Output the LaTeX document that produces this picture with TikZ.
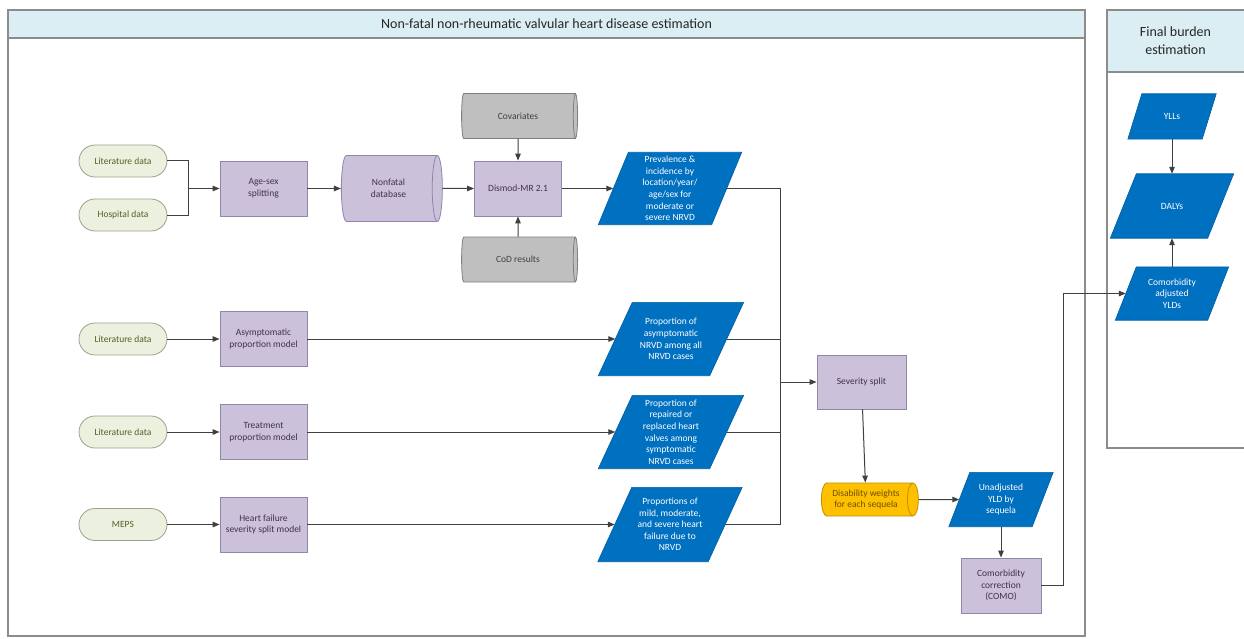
\documentclass[tikz,border=0pt]{standalone}
\usepackage{fontspec}
\setmainfont{Carlito}
\usetikzlibrary{shapes.geometric,arrows.meta,calc}
\pgfdeclarelayer{back}\pgfdeclarelayer{bg}
\pgfsetlayers{back,bg,main}
\definecolor{procF}{HTML}{CCC1DA}
\definecolor{procB}{HTML}{8F86A8}
\definecolor{procT}{HTML}{3F3151}
\definecolor{srcF}{HTML}{EBF1DE}
\definecolor{srcB}{HTML}{9AA38A}
\definecolor{srcT}{HTML}{4F6228}
\definecolor{outF}{HTML}{0070C0}
\definecolor{outB}{HTML}{005FA3}
\definecolor{grayF}{HTML}{BFBFBF}
\definecolor{grayB}{HTML}{7F7F7F}
\definecolor{grayT}{HTML}{404040}
\definecolor{orF}{HTML}{FFC000}
\definecolor{orB}{HTML}{BF9000}
\definecolor{orT}{HTML}{6B5000}
\definecolor{hdrF}{HTML}{DAEEF3}
\definecolor{frameC}{HTML}{8C8C8C}
\definecolor{lineC}{HTML}{404040}
\tikzset{
  every node/.style={font=\fontsize{9.5}{11.6}\selectfont, align=center, inner sep=1pt},
  proc/.style={rectangle, draw=procB, fill=procF, text=procT, line width=0.8pt, minimum width=87pt, minimum height=55pt},
  src/.style={rectangle, rounded corners=16pt, draw=srcB, fill=srcF, text=srcT, line width=0.8pt, minimum width=88pt, minimum height=32pt},
  cyl/.style={cylinder, shape aspect=0.5, line width=0.8pt},
  graycyl/.style={cyl, draw=grayB, fill=grayF, text=grayT},
  purcyl/.style={cyl, draw=procB, fill=procF, text=procT},
  orcyl/.style={cyl, draw=orB, fill=orF, text=orT},
  partext/.style={rectangle, draw=none, text=white, inner sep=0pt},
  parfill/.style={fill=outF, draw=outB, line width=0.6pt},
  frame/.style={draw=frameC, line width=1.3pt},
  titletext/.style={font=\fontsize{14}{18}\selectfont, text=black!85},
  conn/.style={draw=lineC, line width=1pt},
  arr/.style={conn, -{Triangle[length=7pt,width=5.5pt]}}
}
\newcommand\parnode[6]{%
  \node[partext, minimum width=#3, minimum height=#4] (#1) at (#2) {#6};
  \begin{pgfonlayer}{bg}
    \path[parfill] ($(#1.south west)+(-#5/2,0)$) -- ($(#1.south east)+(-#5/2,0)$)
      -- ($(#1.north east)+(#5/2,0)$) -- ($(#1.north west)+(#5/2,0)$) -- cycle;
  \end{pgfonlayer}}
\begin{document}
\begin{tikzpicture}[x=1pt,y=-1pt]
\begin{pgfonlayer}{back}
  \fill[white] (0,0) rectangle (1244,639);
\end{pgfonlayer}
\useasboundingbox (0,0) rectangle (1244,639);
\clip (0,0) rectangle (1244,639);
% panels
\fill[hdrF] (8,10) rectangle (1085,38);
\draw[frame] (8,10) rectangle (1085,636);
\draw[frame] (8,38) -- (1085,38);
\node[titletext] (t1) at (546.5,24) {Non-fatal non-rheumatic valvular heart disease estimation};
\fill[hdrF] (1107,10) rectangle (1250,72);
\draw[frame] (1250,10) -- (1107,10) -- (1107,448) -- (1250,448);
\draw[frame] (1107,72) -- (1250,72);
\node[titletext] (t2) at (1175.5,41) {Final burden\\estimation};
% row 1
\node[src] (lit1) at (123,161) {Literature data};
\node[src] (hosp) at (123,215) {Hospital data};
\node[proc] (age) at (263.5,188.5) {Age-sex\\splitting};
\node[purcyl, minimum height=101pt, minimum width=66pt] (nfdb) at (388.5,188.5) {Nonfatal\\database};
\node[proc] (dismod) at (518,188.5) {Dismod-MR 2.1};
\node[graycyl, minimum height=116pt, minimum width=45pt] (cov) at (518,116) {Covariates};
\node[graycyl, minimum height=116pt, minimum width=45pt] (cod) at (518,259.5) {CoD results};
\parnode{prev}{670,188.5}{113pt}{72pt}{30}{Prevalence \&\\incidence by\\location/year/\\age/sex for\\moderate or\\severe NRVD}
% row 2
\node[src] (lit3) at (123,339) {Literature data};
\node[proc] (asymp) at (263.5,339) {Asymptomatic\\proportion model};
\parnode{asym}{671,339}{111pt}{73pt}{34}{Proportion of\\asymptomatic\\NRVD among all\\NRVD cases}
% row 3
\node[src] (lit4) at (123,432) {Literature data};
\node[proc] (treat) at (263.5,432) {Treatment\\proportion model};
\parnode{rep}{671,432}{111pt}{73pt}{34}{Proportion of\\repaired or\\replaced heart\\valves among\\symptomatic\\NRVD cases}
% row 4
\node[src] (meps) at (123,524.5) {MEPS};
\node[proc] (hf) at (263.5,524.5) {Heart failure\\severity split model};
\parnode{mild}{670,524.5}{110pt}{74pt}{34}{Proportions of\\mild, moderate,\\and severe heart\\failure due to\\NRVD}
% right part
\node[proc, minimum width=89pt, minimum height=54pt] (sev) at (861.5,382) {Severity split};
\node[orcyl, minimum height=97pt, minimum width=33pt] (dw) at (866,499.5) {Disability weights\\for each sequela};
\parnode{unadj}{1001,499.5}{83pt}{54pt}{21}{Unadjusted\\YLD by\\sequela}
\node[proc, minimum width=80pt, minimum height=55pt] (como) at (1001,585.5) {Comorbidity\\correction\\(COMO)};
\parnode{ylls}{1172,116.5}{74pt}{45pt}{14}{YLLs}
\parnode{dalys}{1172,206}{97pt}{64pt}{26}{DALYs}
\parnode{cadj}{1172,293.5}{92pt}{53pt}{21}{Comorbidity\\adjusted\\YLDs}
% connectors
\coordinate (j1) at (188,188.5);
\draw[conn] (lit1.east) -| (j1);
\draw[conn] (hosp.east) -| (j1);
\draw[arr] (j1) -- (age.west);
\draw[arr] (age) -- (nfdb);
\draw[arr] (nfdb) -- (dismod);
\draw[arr] (cov) -- (dismod);
\draw[arr] (cod) -- (dismod);
\draw[arr] (dismod) -- (prev);
\draw[arr] (lit3) -- (asymp);
\draw[arr] (asymp) -- (asym);
\draw[arr] (lit4) -- (treat);
\draw[arr] (treat) -- (rep);
\draw[arr] (meps) -- (hf);
\draw[arr] (hf) -- (mild);
\coordinate (bt) at (780,188.5);
\coordinate (bb) at (780,524.5);
\coordinate (bm) at (780,382);
\draw[conn] (prev.east) -- (bt) -- (bb) -- (mild.east);
\draw[conn] (asym.east) -- (asym.east -| bt);
\draw[conn] (rep.east) -- (rep.east -| bt);
\draw[arr] (bm) -- (sev.west);
\draw[arr] (sev) -- (dw);
\draw[arr] (dw) -- (unadj);
\draw[arr] (unadj) -- (como);
\coordinate (cr) at (1063,585.5);
\draw[arr] (como.east) -- (cr) |- (cadj.west);
\draw[arr] (ylls) -- (dalys);
\draw[arr] (cadj) -- (dalys);
\end{tikzpicture}
\end{document}
